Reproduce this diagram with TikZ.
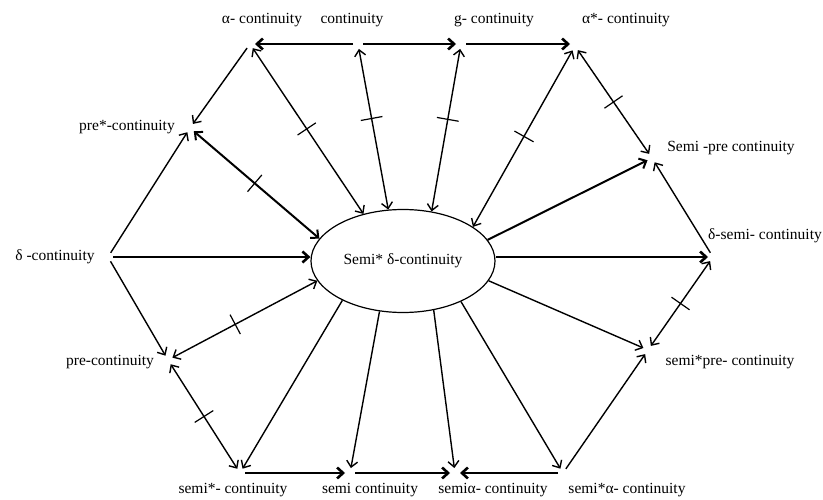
\documentclass[tikz,border=0pt]{standalone}
\usepackage{fontspec}
\setmainfont{Liberation Serif}
\usetikzlibrary{arrows.meta,decorations.markings,shapes.geometric,calc}
\begin{document}
\begin{tikzpicture}[x=1pt,y=-1pt,
  lbl/.style={font=\fontsize{15.5}{18}\selectfont, inner sep=0pt},
  con/.style={line width=1.4pt, -{Straight Barb[length=6pt,width=11pt]}},
  dcon/.style={line width=1.4pt, {Straight Barb[length=6pt,width=11pt]}-{Straight Barb[length=6pt,width=11pt]}},
  heavy/.style={line width=2.6pt},
  medium/.style={line width=2pt},
  crossmark/.style={postaction={decorate}, decoration={markings, mark=at position #1 with {\draw[line width=1.2pt,-,shorten <=0pt,shorten >=0pt] (0,-11pt) -- (0,11pt);}}},
  crossmark/.default=0.5,
  js/.style={shorten <=5pt}, je/.style={shorten >=5pt}
]
\useasboundingbox (0,0) rectangle (823,500);
% junction points
\coordinate (A) at (250,44);
\coordinate (C) at (358,44);
\coordinate (G) at (461,44);
\coordinate (AS) at (575,46);
\coordinate (PS) at (190,128);
\coordinate (D) at (108,257);
\coordinate (P) at (168,360);
\coordinate (S1) at (240,473);
\coordinate (S2) at (350,473);
\coordinate (S3) at (455,473);
\coordinate (S4) at (563,473);
\coordinate (SP) at (648,350);
\coordinate (DS) at (713,257);
\coordinate (SR) at (652,158);
% central ellipse
\node[draw, ellipse, line width=1.2pt, minimum width=184pt, minimum height=103pt, inner sep=0pt, font=\fontsize{15.5}{18}\selectfont] (E) at (403,261) {Semi* δ-continuity};
% labels
\node[lbl] (tA) at (262,20) {α- continuity};
\node[lbl] (tC) at (352,20) {continuity};
\node[lbl] (tG) at (494,20) {g- continuity};
\node[lbl] (tAS) at (626,20) {α*- continuity};
\node[lbl] (tPS) at (127,127) {pre*-continuity};
\node[lbl] (tD) at (55,257) {δ -continuity};
\node[lbl] (tP) at (110,362) {pre-continuity};
\node[lbl] (tS1) at (233,490) {semi*- continuity};
\node[lbl] (tS2) at (370,490) {semi continuity};
\node[lbl] (tS3) at (493,490) {semiα- continuity};
\node[lbl] (tS4) at (627,490) {semi*α- continuity};
\node[lbl] (tSP) at (730,362) {semi*pre- continuity};
\node[lbl] (tDS) at (765,236) {δ-semi- continuity};
\node[lbl] (tSR) at (731,148) {Semi -pre continuity};
% top row
\draw[con,heavy,js,je] (C) -- (A);
\draw[con,heavy,js,je] (C) -- (G);
\draw[con,heavy,js,je] (G) -- (G -| AS);
% bottom row
\draw[con,heavy,js,je] (S1) -- (S2);
\draw[con,heavy,js,je] (S2) -- (S3);
\draw[con,heavy,js,je] (S4) -- (S3);
% upper connectors
\draw[con,js,je] (A) -- (PS);
\draw[dcon,js,crossmark] (A) -- (E.130);
\draw[dcon,js,crossmark=0.45] (C) -- (E.106);
\draw[dcon,js,crossmark=0.45] (G) -- (E.60);
\draw[dcon,js,crossmark] (AS) -- (E.26);
\draw[dcon,js,je,crossmark] (AS) -- (SR);
\draw[con,medium,je] (E.14) -- (SR);
\draw[con,js,je] (DS) -- (SR);
\draw[con,heavy,je] (E.east |- DS) -- (DS);
% right lower
\draw[dcon,js,je,crossmark] (DS) -- (SP);
\draw[con,je] (E.347) -- (SP);
\draw[con,js,je] (S4) -- (SP);
% bottom fan
\draw[con,je] (E.325) -- (S4);
\draw[con,je] (E.302) -- (S3);
\draw[con,je] (E.245) -- (S2);
\draw[con,je] (E.213) -- (S1);
% left side
\draw[dcon,js,je,crossmark] (P) -- (S1);
\draw[dcon,js,crossmark=0.45] (P) -- (E.193);
\draw[con,js,je] (D) -- (P);
\draw[con,heavy,js] (D) -- (D -| E.west);
\draw[con,js,je] (D) -- (PS);
\draw[dcon,medium,js,crossmark] (PS) -- (E.165);
\end{tikzpicture}
\end{document}
